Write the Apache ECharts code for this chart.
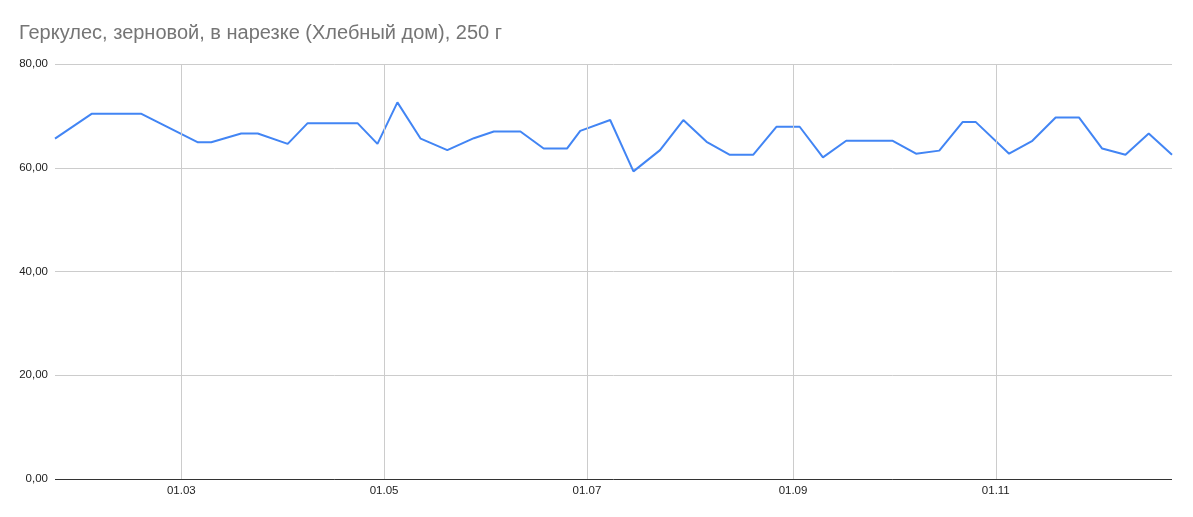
<!DOCTYPE html>
<html>
<head>
<meta charset="utf-8">
<script src="https://cdn.jsdelivr.net/npm/echarts@6/dist/echarts.min.js"></script>
<style>html,body{margin:0;padding:0;background:#fff}#c{width:1193px;height:517px}</style>
</head>
<body>
<div id="c"></div>
<script>
const titleText = 'Геркулес, зерновой, в нарезке (Хлебный дом), 250 г';
const dates = ['2023-01-22','2023-02-02','2023-02-17','2023-03-06','2023-03-10','2023-03-19','2023-03-24','2023-04-02','2023-04-08','2023-04-23','2023-04-29','2023-05-05','2023-05-12','2023-05-20','2023-05-28','2023-06-03','2023-06-11','2023-06-18','2023-06-25','2023-06-29','2023-07-08','2023-07-15','2023-07-23','2023-07-30','2023-08-06','2023-08-13','2023-08-20','2023-08-27','2023-09-03','2023-09-10','2023-09-17','2023-10-01','2023-10-08','2023-10-15','2023-10-22','2023-10-26','2023-11-05','2023-11-12','2023-11-19','2023-11-26','2023-12-03','2023-12-10','2023-12-17','2023-12-24'];
const prices = [65.6,70.4,70.4,64.9,64.9,66.6,66.6,64.6,68.6,68.6,64.6,72.6,65.6,63.4,65.7,67.0,67.0,63.7,63.7,67.1,69.2,59.3,63.4,69.2,65.0,62.5,62.5,67.9,67.9,62.0,65.2,65.2,62.7,63.3,68.8,68.8,62.7,65.2,69.7,69.7,63.7,62.5,66.6,62.5];
const monthTicks = ['2023-03-01','2023-05-01','2023-07-01','2023-09-01','2023-11-01'];
const yTicks = [0,20,40,60,80];

const ts = d => { const p = d.split('-').map(Number); return Date.UTC(p[0], p[1]-1, p[2]); };
const pad = n => (n < 10 ? '0' : '') + n;
const fmtDate = v => { const d = new Date(v); return pad(d.getUTCDate()) + '.' + pad(d.getUTCMonth()+1); };

const chart = echarts.init(document.getElementById('c'), null, {renderer:'canvas'});
chart.setOption({
  animation: false,
  backgroundColor: '#fff',
  textStyle: {fontFamily: 'Liberation Sans, Arial, sans-serif'},
  title: {
    text: titleText, left: 14, top: 18,
    textStyle: {fontSize: 20, fontWeight: 'normal', color: '#757575', fontFamily: 'Liberation Sans, Arial, sans-serif'}
  },
  grid: {left: 55, right: 21, top: 64, bottom: 38, containLabel: false},
  xAxis: {
    type: 'value', scale: true,
    min: ts(dates[0]), max: ts(dates[dates.length-1]),
    axisLine: {show: false},
    axisTick: {show: false},
    splitLine: {show: false},
    axisLabel: {show: false}
  },
  yAxis: {
    type: 'value', min: yTicks[0], max: yTicks[yTicks.length-1], interval: 20,
    axisLine: {show: false}, axisTick: {show: false},
    splitLine: {lineStyle: {color: '#cccccc', width: 1}},
    axisLabel: {color: '#222', fontSize: 11.5, margin: 7, formatter: v => v.toFixed(2).replace('.', ',')}
  },
  series: [
    {
      type: 'line', data: [], z: 1, silent: true,
      markLine: {
        silent: true, symbol: 'none', animation: false,
        label: {show: true, position: 'start', distance: 6, color: '#222', fontSize: 11.5,
                formatter: p => fmtDate(p.value)},
        lineStyle: {color: '#cccccc', width: 1, type: 'solid'},
        data: monthTicks.map(m => ({xAxis: ts(m)}))
      }
    },
    {
      type: 'line', data: [], z: 3, silent: true,
      markLine: {
        silent: true, symbol: 'none', animation: false,
        label: {show: false},
        lineStyle: {color: '#333333', width: 1, type: 'solid'},
        data: [{yAxis: 0}]
      }
    },
    {
      type: 'line', z: 2,
      data: dates.map((d, i) => [ts(d), prices[i]]),
      showSymbol: false, symbol: 'none',
      lineStyle: {color: '#4285F4', width: 2},
      itemStyle: {color: '#4285F4'}
    }
  ]
});
</script>
</body>
</html>
